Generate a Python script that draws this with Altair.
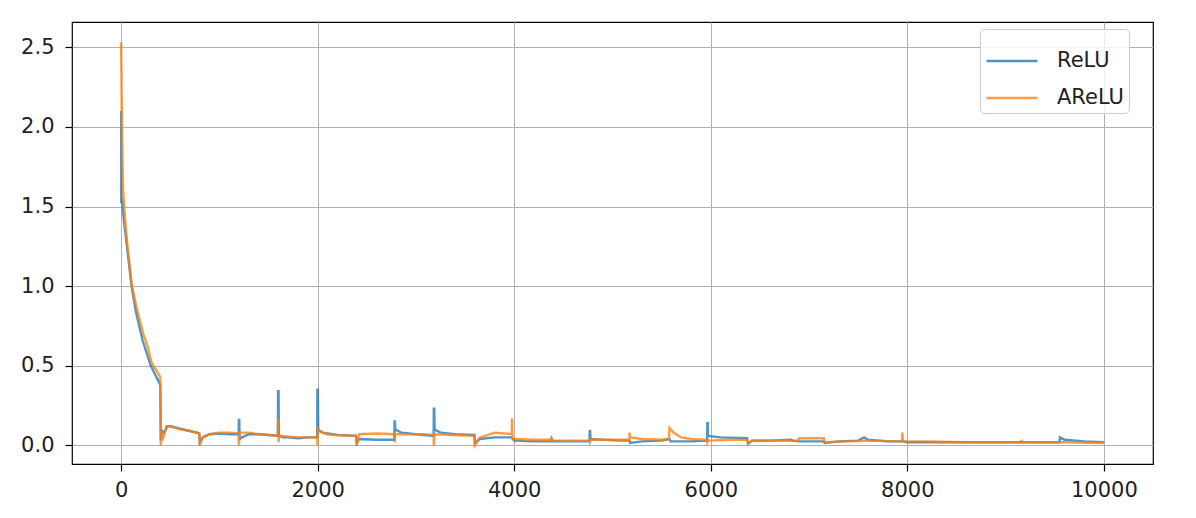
import altair as alt
import pandas as pd

# ReLU series (step, loss)
relu_steps = [0, 2, 8, 30, 65, 106, 150, 218, 260, 302, 350, 398, 404, 420, 440, 470, 500, 600, 700, 795, 800, 830, 900, 1000, 1100,
              1195, 1198, 1202, 1205, 1230, 1300, 1400, 1500, 1595, 1597, 1602, 1605, 1650, 1700, 1800, 1900, 1995, 1997, 2002, 2005,
              2050, 2200, 2390, 2398, 2420, 2600, 2780, 2782, 2786, 2790, 2850, 3000, 3180, 3182, 3186, 3190, 3250, 3400, 3595, 3600,
              3650, 3800, 3975, 4000, 4200, 4376, 4380, 4390, 4600, 4766, 4768, 4772, 4776, 4900, 5100, 5175, 5180, 5300, 5500, 5580,
              5590, 5800, 5963, 5965, 5969, 5973, 6100, 6370, 6380, 6420, 6600, 6820, 6830, 6900, 7150, 7160, 7300, 7500, 7560, 7600,
              7800, 7950, 8000, 8500, 9000, 9300, 9550, 9553, 9600, 9800, 9999]
relu_loss = [2.10, 1.52, 1.55, 1.40, 1.22, 1.00, 0.84, 0.66, 0.58, 0.50, 0.44, 0.38, 0.03, 0.09, 0.08, 0.12, 0.12, 0.105, 0.09, 0.075, 0.02, 0.05, 0.07, 0.075, 0.07,
             0.07, 0.16, 0.16, 0.04, 0.05, 0.07, 0.07, 0.065, 0.06, 0.34, 0.34, 0.06, 0.05, 0.05, 0.045, 0.05, 0.05, 0.35, 0.35, 0.10,
             0.08, 0.065, 0.06, 0.015, 0.04, 0.035, 0.035, 0.15, 0.15, 0.10, 0.08, 0.07, 0.06, 0.23, 0.23, 0.10, 0.08, 0.07, 0.065, 0.015,
             0.04, 0.05, 0.05, 0.03, 0.025, 0.025, 0.04, 0.025, 0.025, 0.025, 0.09, 0.09, 0.04, 0.035, 0.03, 0.03, 0.015, 0.025, 0.03, 0.04,
             0.025, 0.025, 0.03, 0.14, 0.14, 0.06, 0.05, 0.045, 0.01, 0.03, 0.03, 0.035, 0.03, 0.025, 0.025, 0.015, 0.025, 0.03, 0.05, 0.035,
             0.025, 0.025, 0.02, 0.02, 0.02, 0.02, 0.02, 0.05, 0.035, 0.025, 0.02]

# AReLU series (step, loss)
arelu_steps = [0, 8, 20, 40, 65, 110, 160, 225, 270, 310, 360, 398, 404, 415, 430, 460, 500, 600, 700, 795, 800, 830, 900, 1000, 1100,
               1195, 1198, 1205, 1300, 1400, 1500, 1595, 1598, 1602, 1608, 1700, 1800, 1900, 1995, 1998, 2000, 2010, 2100, 2200, 2390,
               2398, 2420, 2600, 2780, 2782, 2790, 3000, 3180, 3182, 3190, 3400, 3595, 3600, 3650, 3800, 3900, 3975, 3977, 3982, 4000,
               4200, 4376, 4380, 4390, 4600, 4766, 4770, 4780, 5000, 5170, 5173, 5180, 5300, 5500, 5575, 5580, 5620, 5700, 5800, 5963,
               5966, 5975, 6200, 6370, 6380, 6420, 6600, 6880, 6900, 7150, 7160, 7400, 7600, 7945, 7950, 7956, 8200, 8600, 9000, 9160,
               9162, 9170, 9600, 9999]
arelu_loss = [2.53, 2.00, 1.60, 1.42, 1.25, 1.00, 0.86, 0.70, 0.62, 0.52, 0.47, 0.43, 0.0, 0.08, 0.05, 0.12, 0.12, 0.10, 0.09, 0.075, 0.0, 0.05, 0.07, 0.08, 0.08,
              0.075, 0.0, 0.08, 0.08, 0.07, 0.065, 0.06, 0.17, 0.02, 0.06, 0.055, 0.05, 0.05, 0.05, 0.0, 0.10, 0.09, 0.07, 0.065, 0.06,
              0.0, 0.07, 0.075, 0.07, 0.02, 0.07, 0.07, 0.065, 0.0, 0.07, 0.065, 0.06, 0.0, 0.05, 0.08, 0.075, 0.07, 0.17, 0.04, 0.04,
              0.035, 0.035, 0.05, 0.03, 0.03, 0.03, 0.02, 0.035, 0.035, 0.035, 0.08, 0.05, 0.04, 0.035, 0.04, 0.11, 0.08, 0.05, 0.04, 0.035,
              0.02, 0.03, 0.035, 0.035, 0.01, 0.03, 0.03, 0.03, 0.045, 0.045, 0.02, 0.025, 0.03, 0.025, 0.08, 0.025, 0.025, 0.02, 0.02, 0.02,
              0.035, 0.02, 0.02, 0.015]

series_names = ["ReLU", "AReLU"]
series_colors = ["#1f77b4", "#ff7f0e"]
x_ticks = [0, 2000, 4000, 6000, 8000, 10000]
y_ticks = [0.0, 0.5, 1.0, 1.5, 2.0, 2.5]

df = pd.concat([
    pd.DataFrame({"step": relu_steps, "loss": relu_loss, "series": "ReLU", "order": range(len(relu_steps))}),
    pd.DataFrame({"step": arelu_steps, "loss": arelu_loss, "series": "AReLU", "order": range(len(arelu_steps))}),
])

chart = alt.Chart(df).mark_line(strokeWidth=2.4, opacity=0.78).encode(
    x=alt.X("step:Q", scale=alt.Scale(domain=[-500, 10500], nice=False, zero=False),
            axis=alt.Axis(values=x_ticks, format="d", title=None, labelPadding=8)),
    y=alt.Y("loss:Q", scale=alt.Scale(domain=[-0.117, 2.659], nice=False, zero=False),
            axis=alt.Axis(values=y_ticks, format=".1f", title=None, labelPadding=11)),
    color=alt.Color("series:N", scale=alt.Scale(domain=series_names, range=series_colors),
                    legend=alt.Legend(title=None, orient="none", legendX=908, legendY=7,
                                      symbolType="stroke", symbolSize=2600, symbolStrokeWidth=2.4,
                                      symbolOpacity=0.78, labelFontSize=21, labelOffset=18,
                                      rowPadding=0, padding=5, labelColor="#222",
                                      fillColor="rgba(255,255,255,0.8)", strokeColor="#cccccc",
                                      cornerRadius=4, labelFont="DejaVu Sans")),
    order="order:Q",
).properties(
    width=1081, height=442,
    autosize=alt.AutoSizeParams(type="none"),
    padding={"left": 64, "top": 14, "right": 35, "bottom": 46},
).configure_axis(
    labelFont="DejaVu Sans", labelFontSize=21, labelColor="#222",
    tickColor="#000", tickSize=7, tickWidth=1.2,
    domain=False, grid=True, gridColor="#b0b0b0", gridWidth=1,
).configure_view(
    stroke="#000", strokeWidth=1.2,
)

chart.save("out.html", embed_options={"renderer": "svg", "actions": False})
